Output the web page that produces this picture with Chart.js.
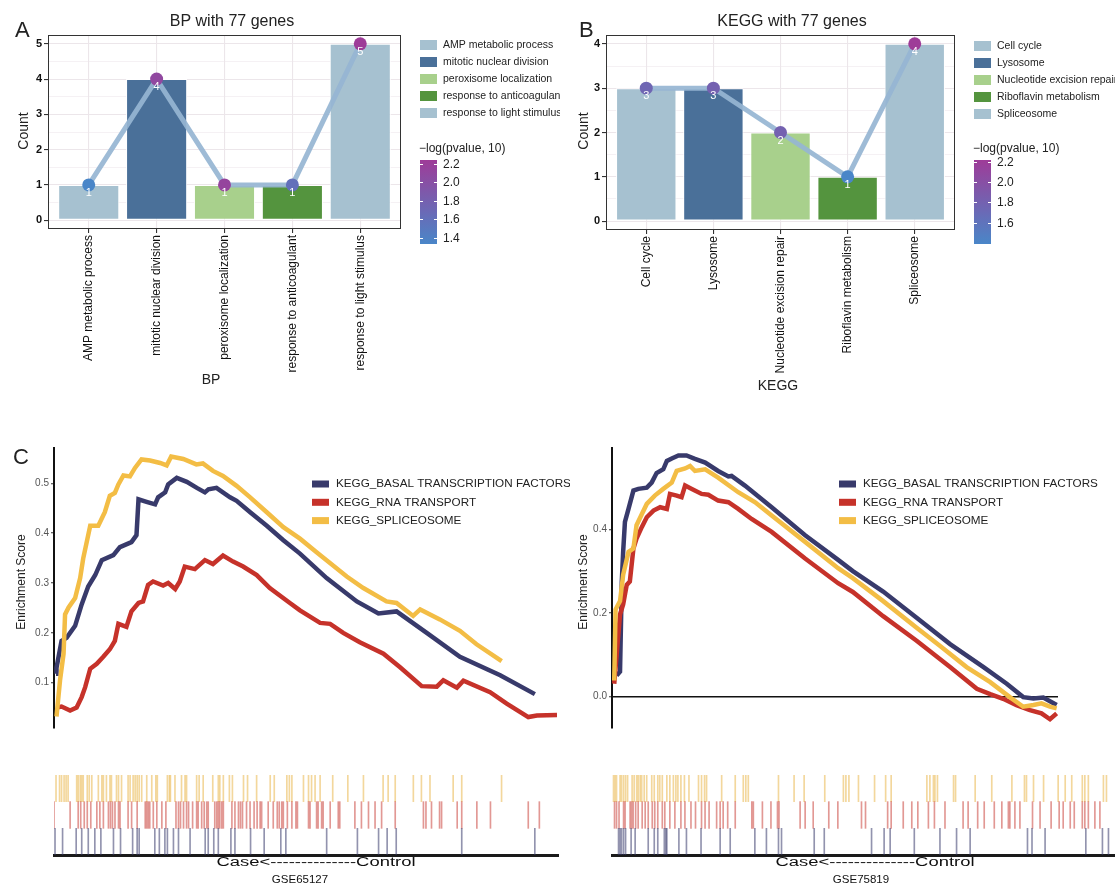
<!DOCTYPE html>
<html>
<head>
<meta charset="utf-8">
<script src="https://cdn.jsdelivr.net/npm/chart.js@4.4.0/dist/chart.umd.min.js"></script>
<style>
  body { margin: 0; background: #fff; width: 1115px; height: 888px; position: relative; overflow: hidden; }
  canvas { position: absolute; }
</style>
</head>
<body>
<canvas id="bp" width="560" height="400" style="left:0;top:0"></canvas>
<canvas id="kegg" width="555" height="400" style="left:560px;top:0"></canvas>
<canvas id="gsea1" width="570" height="300" style="left:0;top:440px"></canvas>
<canvas id="gsea2" width="545" height="300" style="left:570px;top:440px"></canvas>
<canvas id="rug1" width="570" height="120" style="left:0;top:768px"></canvas>
<canvas id="rug2" width="545" height="120" style="left:570px;top:768px"></canvas>
<script>
// ---- panel A: GO BP ----
const bpTerms = ['AMP metabolic process', 'mitotic nuclear division', 'peroxisome localization',
  'response to anticoagulant', 'response to light stimulus'];
const bpCounts = [1, 4, 1, 1, 5];
const bpLogP = [1.335, 2.10, 2.15, 1.60, 2.243];
const bpTicks = [0, 1, 2, 3, 4, 5];
const bpCbTicks = [1.4, 1.6, 1.8, 2.0, 2.2];

// ---- panel B: KEGG ----
const keggTerms = ['Cell cycle', 'Lysosome', 'Nucleotide excision repair', 'Riboflavin metabolism', 'Spliceosome'];
const keggCounts = [3, 3, 2, 1, 4];
const keggLogP = [1.75, 1.80, 1.80, 1.39, 2.215];
const keggTicks = [0, 1, 2, 3, 4];
const keggCbTicks = [1.6, 1.8, 2.0, 2.2];

const termFills = ['#a6c1d0', '#4a7099', '#a8d08c', '#54943e', '#a6c1d0'];

// ---- panel C: running enrichment score, [rank %, ES] ----
const setNames = ['KEGG_BASAL TRANSCRIPTION FACTORS', 'KEGG_RNA TRANSPORT', 'KEGG_SPLICEOSOME'];
const setColors = ['#383a6b', '#c6322a', '#f3bd45'];

const gse65127Basal = [[0.4,0.118],[0.5,0.13],[1.5,0.184],[2.5,0.19],[4.2,0.214],[5.5,0.257],[6.8,0.293],
  [8.2,0.316],[9.5,0.346],[11.8,0.356],[13.1,0.372],[15.4,0.382],[16.4,0.396],[16.8,0.468],[18.4,0.463],
  [20.1,0.458],[20.7,0.472],[22.1,0.482],[22.7,0.498],[24.4,0.511],[26.4,0.503],[28.4,0.491],[30.0,0.482],
  [30.7,0.488],[32.3,0.491],[35.0,0.472],[36.3,0.465],[39.0,0.442],[42.3,0.415],[45.6,0.386],[48.9,0.359],
  [54.2,0.31],[60.2,0.263],[64.5,0.239],[68.1,0.243],[74.1,0.2],[80.7,0.152],[88.7,0.115],[95.6,0.077]];
const gse65127Rna = [[0.5,0.05],[1.5,0.052],[3.2,0.044],[4.5,0.05],[5.5,0.071],[6.2,0.091],[7.2,0.128],
  [8.5,0.138],[9.8,0.152],[11.1,0.167],[12.1,0.184],[12.8,0.218],[14.4,0.212],[15.4,0.243],[16.8,0.26],
  [17.7,0.263],[18.7,0.296],[19.7,0.303],[21.7,0.295],[22.7,0.30],[24.1,0.288],[25.0,0.303],[26.0,0.333],
  [28.0,0.328],[30.0,0.346],[31.6,0.338],[33.6,0.355],[35.6,0.343],[37.6,0.333],[40.3,0.316],[42.9,0.29],
  [46.9,0.26],[48.9,0.245],[52.9,0.22],[54.9,0.218],[57.5,0.2],[60.8,0.181],[65.5,0.158],[68.8,0.131],
  [73.1,0.093],[76.1,0.092],[77.4,0.105],[80.1,0.09],[81.4,0.104],[86.7,0.081],[90.0,0.058],[94.3,0.031],
  [96.0,0.034],[100,0.035]];
const gse65127Splice = [[0.5,0.032],[1.2,0.105],[1.9,0.158],[2.2,0.237],[2.9,0.251],[4.2,0.27],[5.2,0.31],
  [5.8,0.349],[7.2,0.415],[8.8,0.415],[10.1,0.442],[11.1,0.475],[12.1,0.481],[12.8,0.498],[13.8,0.516],
  [15.1,0.514],[16.1,0.531],[17.4,0.548],[19.1,0.546],[21.1,0.541],[22.4,0.536],[23.3,0.554],[25.7,0.549],
  [28.3,0.538],[29.6,0.54],[31.6,0.525],[33.6,0.515],[36.3,0.495],[39.0,0.472],[42.3,0.442],[45.6,0.412],
  [48.9,0.389],[52.2,0.362],[58.2,0.313],[61.5,0.29],[66.1,0.263],[68.1,0.26],[71.4,0.234],[72.8,0.247],
  [76.7,0.227],[80.7,0.204],[84.0,0.177],[89.0,0.143]];

const gse75819Basal = [[1.05,0.05],[1.8,0.059],[2.2,0.275],[2.5,0.346],[2.9,0.418],[3.7,0.449],[4.8,0.493],
  [5.9,0.497],[7.8,0.5],[8.9,0.512],[10.0,0.535],[11.5,0.544],[12.3,0.564],[13.4,0.57],[14.9,0.577],
  [16.7,0.577],[18.6,0.569],[20.9,0.56],[23.8,0.54],[26.1,0.527],[26.8,0.528],[29.8,0.505],[35.8,0.453],
  [43.3,0.386],[50.7,0.327],[54.0,0.3],[60.8,0.251],[68.3,0.188],[75.8,0.125],[83.3,0.07],[88.5,0.03],
  [92.2,-0.002],[94.5,-0.005],[96.7,-0.003],[99.7,-0.021]];
const gse75819Rna = [[0.5,0.03],[1.8,0.196],[2.5,0.22],[3.3,0.267],[4.0,0.275],[4.8,0.354],[5.5,0.378],
  [6.7,0.406],[7.8,0.429],[9.3,0.445],[10.8,0.453],[12.3,0.449],[13.0,0.485],[14.5,0.481],[15.6,0.477],
  [16.4,0.505],[17.9,0.497],[20.1,0.485],[21.6,0.483],[23.8,0.469],[26.1,0.465],[28.3,0.449],[31.3,0.425],
  [35.8,0.394],[43.3,0.33],[50.7,0.271],[54.0,0.25],[60.8,0.192],[68.3,0.133],[75.8,0.07],[81.8,0.018],
  [84.8,0.005],[87.7,-0.006],[90.7,-0.021],[93.7,-0.033],[96.3,-0.041],[98.2,-0.055],[99.7,-0.041]];
const gse75819Splice = [[0.5,0.038],[0.8,0.208],[1.8,0.228],[2.5,0.291],[3.7,0.346],[4.8,0.354],[5.5,0.41],
  [6.7,0.437],[7.8,0.461],[9.6,0.481],[11.5,0.497],[13.4,0.512],[14.5,0.54],[16.4,0.546],[17.5,0.552],
  [18.6,0.54],[20.9,0.544],[23.8,0.524],[28.3,0.489],[32.1,0.465],[35.8,0.433],[43.3,0.37],[50.7,0.307],
  [54.0,0.283],[60.8,0.228],[68.3,0.164],[73.5,0.121],[79.5,0.07],[84.8,0.034],[89.2,-0.002],[92.2,-0.025],
  [94.5,-0.021],[96.3,-0.017],[98.2,-0.025],[99.7,-0.029]];

// ---- gene-set hits along the ranked list (rank %) ----
const rug1Basal = [0.2,1.7,4.4,5.5,6.8,8.1,9.3,11.8,13.2,15.6,16.5,16.9,20.0,20.9,22.0,22.5,23.7,24.7,27.0,30.0,
  30.6,31.7,32.6,35.1,35.9,39.0,41.7,45.0,46.0,54.1,60.2,64.4,66.1,67.9,80.9,95.4];
const rug1Rna = [0,3.2,4.8,5.3,6.0,6.6,7.3,8.5,9.1,9.8,10.8,11.2,11.6,12.1,12.8,13.1,14.7,15.4,16.5,18.1,18.4,
  18.7,19.0,19.7,20.4,21.4,22.2,24.2,24.7,25.1,25.7,26.3,26.7,27.5,28.3,28.6,29.3,29.8,30.3,30.6,31.9,32.3,
  32.6,32.9,33.3,33.6,35.3,35.9,36.6,37.0,37.4,38.2,38.9,39.7,40.3,40.9,41.2,42.5,43.5,44.3,44.7,45.2,45.5,
  46.3,47.2,48.0,48.3,50.5,50.8,52.1,52.4,53.1,53.4,54.8,56.4,56.7,59.7,61.0,62.4,63.7,65.0,67.7,73.3,73.8,
  74.9,76.5,76.9,80.0,80.9,83.9,86.6,94.1,96.3];
const rug1Splice = [0.4,1.1,1.5,2.0,2.4,2.8,4.5,4.8,5.2,5.5,5.8,6.6,7.0,7.5,8.8,9.5,9.8,10.4,11.1,11.4,12.4,12.8,
  13.4,14.7,15.1,15.7,16.1,16.5,16.9,17.4,18.4,19.4,20.2,20.5,22.5,22.9,23.1,24.0,25.3,26.0,26.3,28.3,28.8,
  29.6,31.5,32.6,32.9,33.6,34.8,35.4,37.6,38.4,40.2,42.9,43.7,46.2,46.7,47.2,49.5,50.5,51.1,51.8,52.8,55.3,
  58.3,61.4,65.3,66.3,67.7,71.3,72.9,74.6,79.2,80.9,88.8];

const rug2Basal = [1.3,1.6,1.9,2.3,2.7,3.8,4.6,7.2,8.4,9.1,10.4,10.7,10.9,13.3,14.8,17.7,21.5,23.5,28.4,30.7,
  33.1,33.7,40.2,42.2,51.6,54.1,55.3,60.1,65.2,68.5,71.2,82.6,83.5,86.1,94.2,97.5,98.7];
const rug2Rna = [0.5,0.9,1.4,2.3,2.6,3.6,3.9,4.2,4.7,5.2,6.0,6.6,7.2,8.0,8.5,9.1,10.0,10.5,11.5,12.5,13.7,14.5,
  15.7,16.6,17.8,18.5,19.3,20.8,21.5,22.1,23.0,24.5,27.8,28.1,29.9,31.6,32.9,33.2,37.4,38.4,40.0,43.1,44.9,
  49.6,50.4,54.8,55.5,57.9,59.6,60.8,62.9,64.1,66.2,69.8,70.8,72.7,74.0,76.0,77.5,78.8,79.1,80.1,81.1,83.6,
  85.1,87.3,88.9,89.7,91.1,91.9,93.5,94.0,94.7,96.0,97.0];
const rug2Splice = [0.3,0.6,0.9,1.6,1.9,2.3,2.7,3.1,4.0,4.4,4.9,5.2,5.6,5.9,6.4,6.9,7.9,8.4,9.1,9.5,10.0,10.9,
  11.5,12.2,12.7,13.1,13.7,14.4,15.3,17.2,17.8,18.4,18.8,21.8,24.5,26.1,26.6,27.1,33.1,36.2,38.2,42.3,46.0,
  46.5,47.1,49.0,52.2,54.4,55.5,62.6,63.2,63.9,64.2,64.7,67.9,68.3,72.2,75.5,79.5,82.0,82.4,83.8,85.8,88.7,
  90.1,91.4,93.5,94.0,94.7,97.7,98.3];

const FONT = '"Liberation Sans", Arial, sans-serif';
Chart.defaults.font.family = FONT;
Chart.defaults.color = '#222';

const lowCol = [74, 134, 200], highCol = [158, 60, 152];
function mix(t) {
  const c = lowCol.map((l, i) => Math.round(l + (highCol[i] - l) * t));
  return `rgb(${c[0]},${c[1]},${c[2]})`;
}

function textAt(ctx, str, x, y, o = {}) {
  ctx.save();
  ctx.font = `${o.weight || 'normal'} ${o.size || 12}px ${FONT}`;
  ctx.fillStyle = o.color || '#222';
  ctx.textAlign = o.align || 'left';
  ctx.textBaseline = o.baseline || 'middle';
  ctx.translate(x, y);
  if (o.rotate) ctx.rotate(o.rotate);
  if (o.width) ctx.scale(o.width / ctx.measureText(str).width, 1);
  ctx.fillText(str, 0, 0);
  ctx.restore();
}

const baseOpts = {
  responsive: false, animation: false, devicePixelRatio: 1, events: [],
  plugins: { legend: { display: false }, tooltip: { enabled: false } }
};

// bar + line enrichment plot (panels A, B)
function enrichChart(id, o) {
  const lo = Math.min(...o.logp), hi = Math.max(...o.logp);
  const minor = o.yTicks.slice(1).map(v => v - 0.5);
  const yGrid = o.yTicks.concat(minor).sort((a, b) => a - b);
  const major = v => o.yTicks.includes(v);

  const decor = {
    id: 'decor' + id,
    afterDraw(chart) {
      const { ctx, chartArea: a, scales: { x, y } } = chart;
      o.counts.forEach((c, i) => textAt(ctx, String(c), x.getPixelForValue(i + 1), y.getPixelForValue(c) + 8,
        { color: '#fff', size: 11, align: 'center' }));
      ctx.save();
      ctx.strokeStyle = '#333'; ctx.lineWidth = 1;
      ctx.strokeRect(a.left + 0.5, a.top + 0.5, a.right - a.left - 1, a.bottom - a.top - 1);
      ctx.restore();

      textAt(ctx, o.letter, o.letterX, 37, { size: 22, baseline: 'alphabetic' });
      textAt(ctx, o.title, 232, 22, { size: 16, align: 'center' });
      textAt(ctx, 'Count', 24, 131, { size: 14, align: 'center', rotate: -Math.PI / 2 });
      textAt(ctx, o.xTitle, o.xTitlePos[0], o.xTitlePos[1], { size: 14, align: 'center' });

      // category legend
      o.terms.forEach((t, i) => {
        const ry = o.rows[i];
        ctx.fillStyle = o.fills[i];
        ctx.fillRect(o.keyX, ry - 5, 17, 10);
        textAt(ctx, t, o.keyX + 23, ry, { size: 10.5 });
      });

      // colour bar
      const top = 160, bot = 244, h = bot - top;
      textAt(ctx, '\u2212log(pvalue, 10)', o.keyX - 1, 149, { size: 12 });
      const g = ctx.createLinearGradient(0, top, 0, bot);
      for (let k = 0; k <= 10; k++) g.addColorStop(k / 10, mix(1 - k / 10));
      ctx.fillStyle = g;
      ctx.fillRect(o.keyX, top, 17, h);
      ctx.strokeStyle = '#fff'; ctx.lineWidth = 1;
      o.cbTicks.forEach(v => {
        const yy = Math.round(bot - (v - lo) / (hi - lo) * h) + 0.5;
        ctx.beginPath();
        ctx.moveTo(o.keyX, yy); ctx.lineTo(o.keyX + 3, yy);
        ctx.moveTo(o.keyX + 14, yy); ctx.lineTo(o.keyX + 17, yy);
        ctx.stroke();
        textAt(ctx, v.toFixed(1), o.keyX + 23, yy, { size: 12 });
      });
    }
  };

  return new Chart(document.getElementById(id), {
    type: 'bar',
    data: {
      datasets: [
        {
          type: 'line', order: 0,
          data: o.counts.map((c, i) => ({ x: i + 1, y: c })),
          borderColor: 'rgba(150,181,211,0.92)', borderWidth: 5,
          pointRadius: 6.5, pointBorderWidth: 0,
          pointBackgroundColor: o.logp.map(v => mix((v - lo) / (hi - lo)))
        },
        {
          type: 'bar', order: 1,
          data: o.counts.map((c, i) => ({ x: i + 1, y: c })),
          backgroundColor: o.fills, borderColor: '#fff', borderWidth: 1, borderSkipped: false,
          barPercentage: 0.9, categoryPercentage: 1
        }
      ]
    },
    options: {
      ...baseOpts,
      layout: { padding: o.pad },
      scales: {
        x: {
          type: 'linear', min: 0.4, max: 5.6, offset: false,
          afterBuildTicks: s => { s.ticks = o.terms.map((t, i) => ({ value: i + 1 })); },
          afterFit: s => { s.height = o.xAxisH; },
          grid: { offset: false, color: '#ece6ea', lineWidth: 1.1, tickLength: 4, tickColor: '#333' },
          border: { display: false },
          ticks: { autoSkip: false, minRotation: 90, maxRotation: 90, padding: 2, color: '#111',
            font: { size: 12 }, callback: v => o.terms[v - 1] }
        },
        y: {
          min: o.yMin, max: o.yMax,
          afterBuildTicks: s => { s.ticks = yGrid.map(v => ({ value: v })); },
          afterFit: s => { s.width = o.yAxisW; },
          grid: {
            color: '#ece6ea', tickLength: 4,
            lineWidth: c => major(c.tick.value) ? 1.1 : 0.55,
            tickColor: c => major(c.tick.value) ? '#333' : 'rgba(0,0,0,0)'
          },
          border: { display: false },
          ticks: { padding: 2, color: '#111', font: { size: 11, weight: 'bold' },
            callback: v => major(v) ? String(v) : '' }
        }
      }
    },
    plugins: [decor]
  });
}

enrichChart('bp', {
  terms: bpTerms, counts: bpCounts, logp: bpLogP, yTicks: bpTicks, cbTicks: bpCbTicks, fills: termFills,
  yMin: -0.25, yMax: 5.25, pad: { left: 0, top: 35, right: 159, bottom: 0 }, yAxisW: 48, xAxisH: 171,
  letter: 'A', letterX: 15, title: 'BP with 77 genes', xTitle: 'BP', xTitlePos: [211, 380],
  keyX: 420, rows: [45, 62, 79, 96, 113]
});
enrichChart('kegg', {
  terms: keggTerms, counts: keggCounts, logp: keggLogP, yTicks: keggTicks, cbTicks: keggCbTicks, fills: termFills,
  yMin: -0.2, yMax: 4.2, pad: { left: 0, top: 35, right: 160, bottom: 0 }, yAxisW: 46, xAxisH: 170,
  letter: 'B', letterX: 19, title: 'KEGG with 77 genes', xTitle: 'KEGG', xTitlePos: [218, 386],
  keyX: 414, rows: [46, 63, 80, 97, 114]
});

// running enrichment score curves (panel C)
function gseaChart(id, o) {
  const decor = {
    id: 'decor' + id,
    afterDraw(chart) {
      const ctx = chart.ctx;
      if (o.letter) textAt(ctx, o.letter, 13, 24, { size: 22, baseline: 'alphabetic' });
      textAt(ctx, 'Enrichment Score', o.yTitleX, 142, { size: 12, align: 'center', rotate: -Math.PI / 2 });
      setNames.forEach((n, i) => {
        const ry = 44 + i * 18.3;
        ctx.fillStyle = setColors[i];
        ctx.fillRect(o.keyX, ry - 3.5, 17, 7);
        textAt(ctx, n, o.keyX + 24, ry, { size: 11.7 });
      });
    }
  };
  return new Chart(document.getElementById(id), {
    type: 'line',
    data: {
      datasets: o.series.map((s, i) => ({
        data: s.map(([x, y]) => ({ x, y })),
        borderColor: setColors[i], borderWidth: 4.5, pointRadius: 0, tension: 0, order: 2 - i
      }))
    },
    options: {
      ...baseOpts,
      layout: { padding: o.pad },
      scales: {
        x: { type: 'linear', display: false, min: 0, max: 100 },
        y: {
          min: o.yMin, max: o.yMax,
          afterBuildTicks: s => { s.ticks = o.yTicks.map(v => ({ value: v })); },
          afterFit: s => { s.width = o.yAxisW; },
          grid: { color: c => c.tick.value === 0 ? '#111' : 'rgba(0,0,0,0)', lineWidth: 1.5,
            tickLength: 3, tickColor: '#333', tickWidth: 1 },
          border: { color: '#111', width: 2 },
          ticks: { color: '#555', font: { size: 10 }, padding: 2, callback: v => v.toFixed(1) }
        }
      }
    },
    plugins: [decor]
  });
}

gseaChart('gsea1', {
  series: [gse65127Basal, gse65127Rna, gse65127Splice], yTicks: [0.1, 0.2, 0.3, 0.4, 0.5],
  yMin: 0.009, yMax: 0.571, yAxisW: 54, pad: { left: 0, top: 5, right: 13, bottom: 12 },
  letter: 'C', yTitleX: 22, keyX: 312
});
gseaChart('gsea2', {
  series: [gse75819Basal, gse75819Rna, gse75819Splice], yTicks: [0.0, 0.2, 0.4],
  yMin: -0.076, yMax: 0.595, yAxisW: 42, pad: { left: 0, top: 5, right: 57, bottom: 12 },
  letter: '', yTitleX: 14, keyX: 269
});

// hit rugs under the curves
const rugRows = [[0, 1], [1, 2], [2, 3]];
const rugColors = ['rgba(56,58,107,0.55)', 'rgba(198,50,42,0.5)', 'rgba(232,176,58,0.5)'];
function rugChart(id, o) {
  const decor = {
    id: 'decor' + id,
    afterDraw(chart) {
      const ctx = chart.ctx;
      textAt(ctx, 'Case<--------------Control', o.caseX, 95, { size: 12, align: 'center', width: 199, color: '#111' });
      textAt(ctx, o.name, o.nameX, 112, { size: 11.5, align: 'center', color: '#111' });
    }
  };
  return new Chart(document.getElementById(id), {
    type: 'bar',
    data: {
      datasets: o.hits.map((h, i) => ({
        data: h.map(p => ({ x: p, y: rugRows[i] })),
        backgroundColor: rugColors[i], borderWidth: 0, barThickness: 1, grouped: false
      }))
    },
    options: {
      ...baseOpts,
      layout: { padding: o.pad },
      scales: {
        x: { type: 'linear', min: 0, max: 100, offset: false,
          afterFit: s => { s.height = 33; },
          grid: { display: false }, ticks: { display: false },
          border: { display: true, color: '#1a1a1a', width: 3 } },
        y: { display: false, min: 0, max: 3 }
      }
    },
    plugins: [decor]
  });
}

rugChart('rug1', {
  hits: [rug1Basal, rug1Rna, rug1Splice], pad: { left: 54, right: 12, top: 7, bottom: 0 },
  caseX: 316, name: 'GSE65127', nameX: 300
});
rugChart('rug2', {
  hits: [rug2Basal, rug2Rna, rug2Splice], pad: { left: 42, right: 0, top: 7, bottom: 0 },
  caseX: 305, name: 'GSE75819', nameX: 291
});
</script>
</body>
</html>
